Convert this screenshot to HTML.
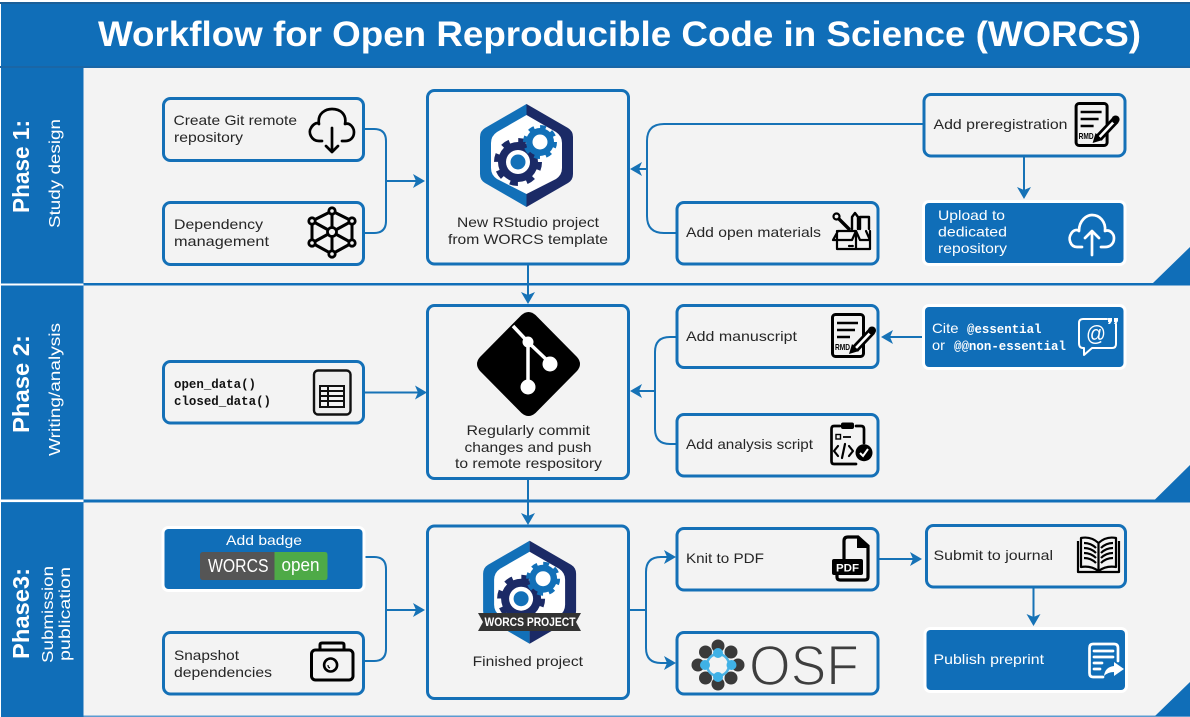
<!DOCTYPE html>
<html><head><meta charset="utf-8"><title>WORCS workflow</title>
<style>
html,body{margin:0;padding:0;background:#fff}
svg{display:block}
text{font-family:"Liberation Sans",sans-serif;fill:#262626;font-size:14px}
.w{fill:#fff}
.m{font-family:"Liberation Mono",monospace;font-weight:bold}
.c{fill:none;stroke:#1672b6;stroke-width:2}
.b{fill:#f3f3f3;stroke:#1470b7;stroke-width:3}
.f{fill:#106eb8;stroke:#fff;stroke-width:6;paint-order:stroke}
.k{fill:none;stroke:#000;stroke-width:2.7;stroke-linecap:round;stroke-linejoin:round}
.kw{fill:none;stroke:#fff;stroke-width:2.7;stroke-linecap:round;stroke-linejoin:round}
</style></head><body>
<svg width="1190" height="717" viewBox="0 0 1190 717" xmlns="http://www.w3.org/2000/svg">
<defs>
<path id="ar" d="M0 0L-12 -7L-9 0L-12 7Z" fill="#1672b6"/>
<g id="hex">
<path d="M526.500 104L485 128Q480 131 480 137V174Q480 180 485 183L526.500 207Z" fill="#1270b8"/>
<path d="M526.500 104L568 128Q573 131 573 137V174Q573 180 568 183L526.500 207Z" fill="#1b2a66"/>
<path d="M526.500 115L556 132Q562 136 562 143V168Q562 175 556 179L526.500 194L497 179Q491 175 491 168V143Q491 136 497 132Z" fill="#fff"/>
<circle cx="518" cy="162" r="20" fill="#1b2a66"/>
<circle cx="518" cy="162" r="21.500" fill="none" stroke="#1b2a66" stroke-width="5" stroke-dasharray="8 8.900"/>
<circle cx="518" cy="162" r="12" fill="#fff"/>
<circle cx="518" cy="162" r="7.500" fill="#1270b8"/>
<circle cx="540" cy="142" r="14" fill="#1270b8"/>
<circle cx="540" cy="142" r="15" fill="none" stroke="#1270b8" stroke-width="4" stroke-dasharray="5.800 5.980"/>
<circle cx="540" cy="142" r="7.500" fill="#fff"/>
</g>
<g id="rmd">
<rect x="1.500" y="1.500" width="31" height="42" rx="3" fill="#f3f3f3" stroke="#000" stroke-width="3"/>
<path d="M6 10H27M6 17H24M6 24H19" stroke="#000" stroke-width="2.600" fill="none"/>
<text x="4" y="37" style="fill:#000;font-size:8.500px;font-weight:bold" textLength="15" lengthAdjust="spacingAndGlyphs">RMD</text>
<path d="M24 36L41 18" stroke="#000" stroke-width="8" fill="none"/>
<path d="M25 35L40 19" stroke="#fff" stroke-width="2.600" fill="none"/>
<path d="M18 41L21 31L28 38Z" fill="#000"/>
<circle cx="41" cy="17.500" r="4" fill="#000"/>
</g>
</defs>

<rect width="1190" height="717" fill="#fff"/>
<rect x="1" y="2" width="1189" height="715" fill="#106eb8"/>
<rect x="0" y="2" width="1190" height="2" fill="#1b5f98"/>
<rect x="0" y="66" width="1190" height="2" fill="#1a66a6"/>

<!-- panels -->
<rect x="83.500" y="68" width="1107" height="215" fill="#f3f3f3"/>
<rect x="83.500" y="285.500" width="1107" height="214" fill="#f3f3f3"/>
<rect x="83.500" y="502.500" width="1107" height="213" fill="#f3f3f3"/>
<rect x="0" y="283.500" width="83.500" height="2" fill="#fff"/>
<rect x="0" y="499.500" width="83.500" height="2.600" fill="#fff"/>
<rect x="83.500" y="715.500" width="1107" height="1.500" fill="#5b9bd0"/>
<path d="M1153 283L1190 247V283Z" fill="#106eb8"/>
<path d="M1155 499.500L1190 465V499.500Z" fill="#106eb8"/>
<path d="M1155 716L1190 682V716Z" fill="#106eb8"/>

<text x="98" y="46" class="w" style="font-size:35px;font-weight:bold" textLength="1043" lengthAdjust="spacingAndGlyphs">Workflow for Open Reproducible Code in Science (WORCS)</text>

<!-- phase labels -->
<text transform="translate(29,213) rotate(-90)" class="w" style="font-size:23px;font-weight:bold" textLength="93" lengthAdjust="spacingAndGlyphs">Phase 1:</text>
<text transform="translate(60,228) rotate(-90)" class="w" style="font-size:16px" textLength="109" lengthAdjust="spacingAndGlyphs">Study design</text>
<text transform="translate(29,433) rotate(-90)" class="w" style="font-size:23px;font-weight:bold" textLength="98" lengthAdjust="spacingAndGlyphs">Phase 2:</text>
<text transform="translate(60,456) rotate(-90)" class="w" style="font-size:16px" textLength="133" lengthAdjust="spacingAndGlyphs">Writing/analysis</text>
<text transform="translate(29,659) rotate(-90)" class="w" style="font-size:23px;font-weight:bold" textLength="91" lengthAdjust="spacingAndGlyphs">Phase3:</text>
<text transform="translate(53,663) rotate(-90)" class="w" style="font-size:16px" textLength="97" lengthAdjust="spacingAndGlyphs">Submission</text>
<text transform="translate(70,661) rotate(-90)" class="w" style="font-size:16px" textLength="94" lengthAdjust="spacingAndGlyphs">publication</text>

<!-- connectors -->
<path class="c" d="M365 129H374Q386 129 386 141V221Q386 233 374 233H365M386 181H416"/>
<use href="#ar" transform="translate(425,181)"/>
<path class="c" d="M923 124H664Q647 124 647 141V216Q647 233 664 233H676M647 169H638"/>
<use href="#ar" transform="translate(630,169) rotate(180)"/>
<path class="c" d="M1024 157V190"/>
<use href="#ar" transform="translate(1024,199) rotate(90)"/>
<path class="c" d="M528 265V296"/>
<use href="#ar" transform="translate(528,304) rotate(90)"/>
<path class="c" d="M365 392.500H418"/>
<use href="#ar" transform="translate(427,392.500)"/>
<path class="c" d="M676 337H670Q655 337 655 352V429Q655 444 670 444H676M655 391H638"/>
<use href="#ar" transform="translate(630,391) rotate(180)"/>
<path class="c" d="M925 337H890"/>
<use href="#ar" transform="translate(881,337) rotate(180)"/>
<path class="c" d="M528 480V517"/>
<use href="#ar" transform="translate(528,525) rotate(90)"/>
<path class="c" d="M365 557H374Q386 557 386 569V649Q386 661 374 661H365M386 610H416"/>
<use href="#ar" transform="translate(425,610)"/>
<path class="c" d="M630 610H646M646 610V572Q646 557 661 557H668M646 610V648Q646 663 661 663H668"/>
<use href="#ar" transform="translate(676,557)"/>
<use href="#ar" transform="translate(676,663)"/>
<path class="c" d="M879 559H914"/>
<use href="#ar" transform="translate(922,559)"/>
<path class="c" d="M1033.500 588V618"/>
<use href="#ar" transform="translate(1033.500,626) rotate(90)"/>

<!-- Phase 1 boxes -->
<rect class="b" x="163.500" y="98.500" width="200" height="62" rx="7"/>
<text x="173.500" y="125" textLength="123.500" lengthAdjust="spacingAndGlyphs">Create Git remote</text>
<text x="174" y="142" textLength="69" lengthAdjust="spacingAndGlyphs">repository</text>
<path class="k" d="M322 141H319C311 141 308 132 311 128C313 124 317 122 319 124C317 113 326 109 332 109C340 109 347 114 345 124C350 122 354 128 354 132C354 138 350 141 345 141H342"/>
<path class="k" d="M332 128V152M326 146L332 152L338 146"/>

<rect class="b" x="163.500" y="202.500" width="200" height="62" rx="7"/>
<text x="174" y="229" textLength="89" lengthAdjust="spacingAndGlyphs">Dependency</text>
<text x="174" y="246" textLength="95" lengthAdjust="spacingAndGlyphs">management</text>
<path class="k" style="stroke-width:3" d="M332 211L352 221V243L332 254L312 243V221ZM332 211V254M312 221L352 243M352 221L312 243"/>
<g fill="#f3f3f3" stroke="#000" stroke-width="2.800">
<circle cx="332" cy="211" r="3.200"/><circle cx="352" cy="221" r="3.200"/><circle cx="352" cy="243" r="3.200"/><circle cx="332" cy="254" r="3.200"/><circle cx="312" cy="243" r="3.200"/><circle cx="312" cy="221" r="3.200"/><circle cx="332" cy="232" r="4.500"/>
</g>

<rect class="b" x="427.500" y="90.500" width="201" height="173.500" rx="7"/>
<use href="#hex"/>
<text x="457" y="227" textLength="142" lengthAdjust="spacingAndGlyphs">New RStudio project</text>
<text x="448" y="244" textLength="160" lengthAdjust="spacingAndGlyphs">from WORCS template</text>

<rect class="b" x="924" y="94.500" width="201" height="61.500" rx="7"/>
<text x="933.500" y="129" textLength="134" lengthAdjust="spacingAndGlyphs">Add preregistration</text>
<use href="#rmd" transform="translate(1074.600,102)"/>

<rect class="b" x="677" y="202.500" width="201" height="61.500" rx="7"/>
<text x="686" y="237" textLength="135" lengthAdjust="spacingAndGlyphs">Add open materials</text>
<g class="k" style="stroke-width:2.200">
<path d="M837 231V249H870V231M856 249V231M833 240L838 231H856L860 240H870L866 231M856 231L852 240H833"/>
<path d="M849 246H854" stroke-dasharray="1.200 1.400"/>
<path d="M852 229V217L855 213L858 217V229M860 229V217H869V229" stroke-width="2.400"/>
<path d="M839 219L849 229" stroke-width="3.400"/>
<circle cx="836.500" cy="216.500" r="3"/>
</g>

<rect class="f" x="925" y="203" width="198.500" height="60" rx="4"/>
<text x="938" y="220" class="w" textLength="67" lengthAdjust="spacingAndGlyphs">Upload to</text>
<text x="938" y="236.500" class="w" textLength="69" lengthAdjust="spacingAndGlyphs">dedicated</text>
<text x="938" y="253" class="w" textLength="69" lengthAdjust="spacingAndGlyphs">repository</text>
<path class="kw" d="M1082 247H1077C1070 247 1068 238 1071 234C1073 230 1077 229 1079 231C1079 220 1087 215 1092 215C1100 215 1106 222 1105 231C1110 229 1114 234 1114 238C1114 244 1110 247 1105 247H1101"/>
<path class="kw" d="M1092 255V231M1085 238L1092 231L1099 238"/>

<!-- Phase 2 boxes -->
<rect class="b" x="163.500" y="361.500" width="200" height="61.500" rx="7"/>
<text x="174" y="388" class="m" style="font-size:12.500px;fill:#111" textLength="82" lengthAdjust="spacingAndGlyphs">open_data()</text>
<text x="174" y="405" class="m" style="font-size:12.500px;fill:#111" textLength="97" lengthAdjust="spacingAndGlyphs">closed_data()</text>
<rect x="314" y="370.500" width="36.500" height="44" rx="4" fill="#eee" stroke="#111" stroke-width="2.400"/>
<rect x="319" y="385" width="26" height="23" fill="#111"/>
<g fill="#f3f3f3">
<rect x="321" y="387" width="6" height="3"/><rect x="329" y="387" width="14" height="3"/>
<rect x="321" y="392" width="6" height="3"/><rect x="329" y="392" width="14" height="3"/>
<rect x="321" y="397" width="6" height="3"/><rect x="329" y="397" width="14" height="3"/>
<rect x="321" y="402" width="6" height="4"/><rect x="329" y="402" width="14" height="4"/>
</g>

<rect class="b" x="427.500" y="305.500" width="201" height="173" rx="7"/>
<path d="M521.500 315Q528.500 309 535.500 315L577 357Q583 364 577 371L535.500 413Q528.500 419 521.500 413L480 371Q474 364 480 357Z" fill="#000"/>
<path d="M513 326L528 342L550 363M528 342V387" fill="none" stroke="#fff" stroke-width="3.500"/>
<circle cx="528" cy="342" r="5.500" fill="#fff"/><circle cx="550" cy="364" r="7.500" fill="#fff"/><circle cx="528" cy="387" r="7.500" fill="#fff"/>
<text x="466.500" y="435" textLength="123.500" lengthAdjust="spacingAndGlyphs">Regularly commit</text>
<text x="464.500" y="452" textLength="127" lengthAdjust="spacingAndGlyphs">changes and push</text>
<text x="455" y="468" textLength="147" lengthAdjust="spacingAndGlyphs">to remote respository</text>

<rect class="b" x="677" y="305.500" width="201" height="62" rx="7"/>
<text x="686" y="341" textLength="111" lengthAdjust="spacingAndGlyphs">Add manuscript</text>
<use href="#rmd" transform="translate(831,313)"/>

<rect class="f" x="925" y="307" width="198.500" height="60" rx="4"/>
<text x="932" y="333" class="w" textLength="26.500" lengthAdjust="spacingAndGlyphs">Cite</text>
<text x="967" y="333" class="w m" style="font-size:12.500px" textLength="74.500" lengthAdjust="spacingAndGlyphs">@essential</text>
<text x="932" y="350" class="w" textLength="13" lengthAdjust="spacingAndGlyphs">or</text>
<text x="954" y="350" class="w m" style="font-size:12.500px" textLength="112" lengthAdjust="spacingAndGlyphs">@@non-essential</text>
<path class="kw" style="stroke-width:2" d="M1107 319H1083Q1079 319 1079 323V343Q1079 348 1083 348H1084V355L1092 348H1112Q1116 348 1116 344V324"/>
<text x="1086" y="341" class="w" style="font-size:22px" textLength="20" lengthAdjust="spacingAndGlyphs">@</text>
<path d="M1108 318h4v3l-2 3h-2l1-2h-1zM1114 318h4v3l-2 3h-2l1-2h-1z" fill="#fff"/>

<rect class="b" x="677" y="414.500" width="201" height="61.500" rx="7"/>
<text x="686" y="449" textLength="127" lengthAdjust="spacingAndGlyphs">Add analysis script</text>
<path class="k" d="M840 426H834Q831.500 426 831.500 429V461Q831.500 464 834 464H856M856 426H861Q864 426 864 429V443"/>
<rect x="841" y="422.500" width="13" height="6.500" rx="2" fill="#000"/>
<rect x="836" y="434.500" width="4.500" height="4.500" fill="none" stroke="#000" stroke-width="1.400"/>
<path d="M843 437H851" stroke="#000" stroke-width="1.800"/>
<path class="k" style="stroke-width:2.200" d="M838 446L834 451L838 456M849 446L853 451L849 456M845 444L842 458"/>
<circle cx="864" cy="452.700" r="8.500" fill="#000"/>
<path d="M860 453L863 456L868 449" fill="none" stroke="#fff" stroke-width="2"/>

<!-- Phase 3 boxes -->
<rect class="f" x="164.500" y="529" width="198" height="60" rx="4"/>
<text x="226" y="545" class="w" textLength="76" lengthAdjust="spacingAndGlyphs">Add badge</text>
<path d="M203 552H274.500V580H203Q200 580 200 577V555Q200 552 203 552Z" fill="#555"/>
<path d="M274.500 552H325Q327.500 552 327.500 555V577Q327.500 580 325 580H274.500Z" fill="#4eaa47"/>
<text x="208" y="572" class="w" style="font-size:18px" textLength="60.500" lengthAdjust="spacingAndGlyphs">WORCS</text>
<text x="281.500" y="571" class="w" style="font-size:18px" textLength="38" lengthAdjust="spacingAndGlyphs">open</text>

<rect class="b" x="163.500" y="632.500" width="200" height="61.500" rx="7"/>
<text x="174" y="660" textLength="65" lengthAdjust="spacingAndGlyphs">Snapshot</text>
<text x="174" y="677" textLength="98" lengthAdjust="spacingAndGlyphs">dependencies</text>
<rect x="311.500" y="650" width="41.500" height="30" rx="4" fill="none" stroke="#000" stroke-width="3"/>
<path d="M320 650V645Q320 643 322 643H342Q344 643 344 645V650" fill="none" stroke="#000" stroke-width="3"/>
<circle cx="330.600" cy="665" r="6.500" fill="none" stroke="#000" stroke-width="2.600"/>
<path d="M330 668A3 3 0 0 1 328 665" fill="none" stroke="#000" stroke-width="1.200"/>

<rect class="b" x="427.500" y="526" width="201" height="172.500" rx="7"/>
<use href="#hex" transform="translate(3.100,436.700)"/>
<path d="M478 613H581L576 622L581 631H478L483 622Z" fill="#333"/>
<text x="484.500" y="626" class="w" style="font-size:11.500px;font-weight:bold" textLength="91" lengthAdjust="spacingAndGlyphs">WORCS PROJECT</text>
<text x="472.600" y="666" textLength="110.400" lengthAdjust="spacingAndGlyphs">Finished project</text>

<rect class="b" x="677" y="528.500" width="201" height="61.500" rx="7"/>
<text x="686" y="563" textLength="78" lengthAdjust="spacingAndGlyphs">Knit to PDF</text>
<path d="M844 560V541Q844 537 848 537H858L868 546V577Q868 580 865 580H840Q837 580 837 577V573" fill="#f3f3f3" stroke="#000" stroke-width="3.200"/>
<path d="M857 537V548H868Z" fill="#000"/>
<rect x="832" y="559" width="31" height="16" rx="2" fill="#000"/>
<text x="836" y="571.500" class="w" style="font-size:11px;font-weight:bold" textLength="23" lengthAdjust="spacingAndGlyphs">PDF</text>

<rect class="b" x="677" y="632.500" width="201" height="61.500" rx="7"/>
<g fill="#3a3a3a">
<circle cx="718" cy="646" r="6.500"/><circle cx="718" cy="684" r="6.500"/><circle cx="698" cy="665" r="6.500"/><circle cx="738" cy="665" r="6.500"/>
<circle cx="705.500" cy="652" r="6.500"/><circle cx="731" cy="652" r="6.500"/><circle cx="705.500" cy="678" r="6.500"/><circle cx="731" cy="678" r="6.500"/>
</g>
<circle cx="718" cy="665" r="11" fill="none" stroke="#4db4e6" stroke-width="2.500"/>
<g fill="#3fb1e6">
<circle cx="718" cy="653" r="5"/><circle cx="718" cy="677" r="5"/><circle cx="705" cy="665" r="5"/><circle cx="731.500" cy="665" r="5"/>
</g>
<text x="749" y="685" style="font-size:57px;fill:#3e3e3e;stroke:#f3f3f3;stroke-width:1.600" textLength="110" lengthAdjust="spacingAndGlyphs">OSF</text>

<rect class="b" x="926.500" y="525.500" width="199" height="61.500" rx="7"/>
<text x="933.500" y="560" textLength="119.500" lengthAdjust="spacingAndGlyphs">Submit to journal</text>
<g class="k" style="stroke-width:2.200;stroke-linecap:butt">
<path d="M1098.500 543C1092 537 1086 537 1081 538V567C1087 566 1093 567 1098.500 571C1104 567 1110 566 1116 567V538C1111 537 1105 537 1098.500 543ZM1098.500 543V571"/>
<path d="M1078 541V572H1119V541"/>
<path d="M1084 543Q1091 543 1096 548M1084 548Q1091 548 1096 553M1084 553Q1091 553 1096 558M1084 558Q1091 558 1096 563M1113 543Q1106 543 1101 548M1113 548Q1106 548 1101 553M1113 553Q1106 553 1101 558M1113 558Q1106 558 1101 563"/>
</g>

<rect class="f" x="926.500" y="630" width="198.500" height="60" rx="4"/>
<text x="933.500" y="664" class="w" textLength="110.500" lengthAdjust="spacingAndGlyphs">Publish preprint</text>
<path class="kw" d="M1103 677H1093Q1089.500 677 1089.500 673V648Q1089.500 644 1093 644H1114Q1118 644 1118 648V661"/>
<path class="kw" d="M1094 651H1113M1094 657H1113M1094 663H1102M1094 669H1100"/>
<path d="M1114 662L1124 669L1114 676V672Q1108 672 1104 676Q1105 667 1114 666Z" fill="#fff"/>
</svg>
</body></html>
